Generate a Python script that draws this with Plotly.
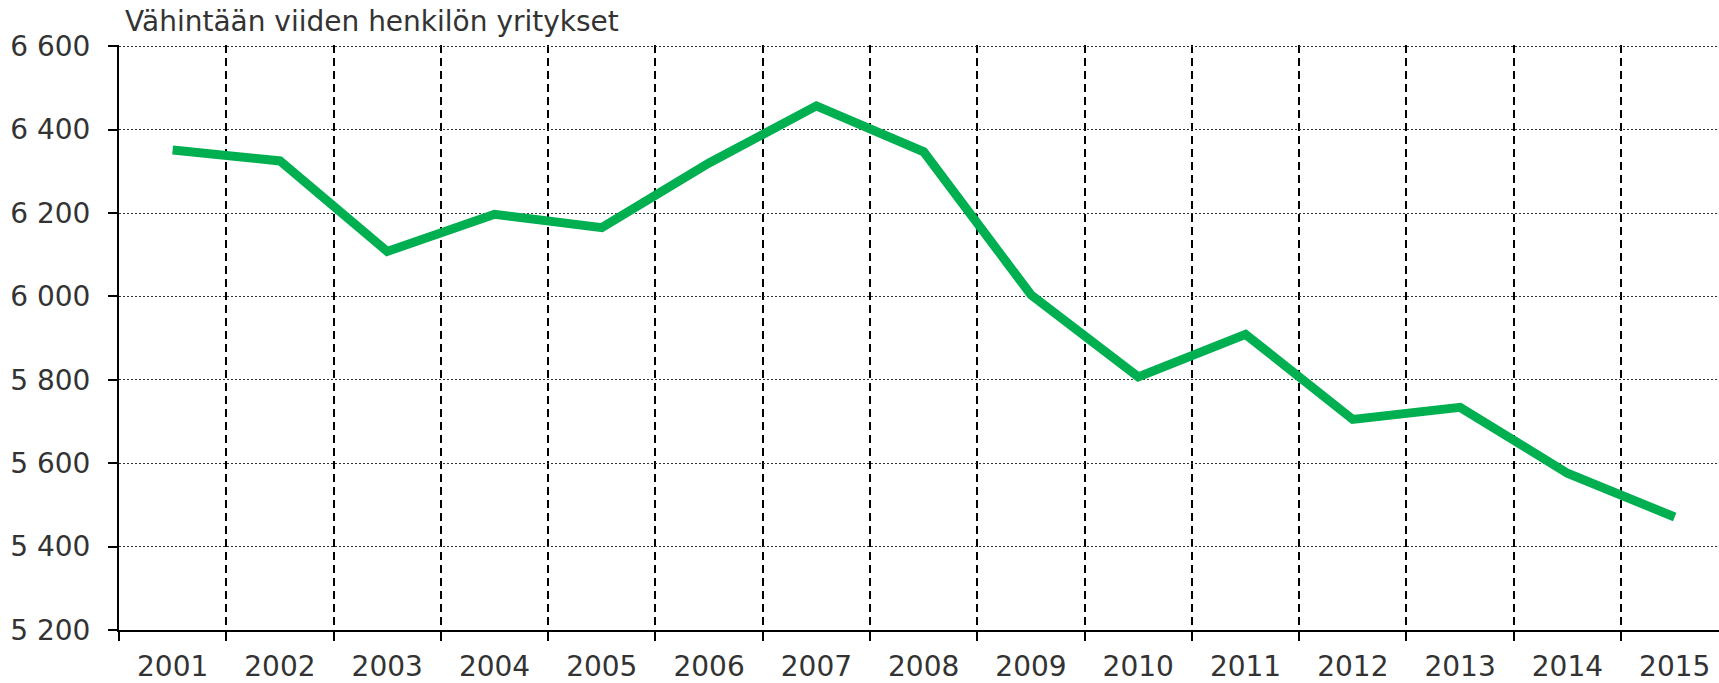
import plotly.graph_objects as go

years = [str(y) for y in range(2001, 2016)]
values = [6351, 6325, 6108, 6197, 6165, 6320, 6457, 6347, 6004, 5807, 5909, 5705, 5734, 5576, 5471]
y_ticks = [5200, 5400, 5600, 5800, 6000, 6200, 6400, 6600]
title_text = "Vähintään viiden henkilön yritykset"

W, H = 1719, 683
font_family = "DejaVu Sans, Verdana, sans-serif"

fig = go.Figure()
fig.add_trace(go.Scatter(
    x=years, y=values, mode="lines",
    line=dict(color="#00b050", width=9),
    hoverinfo="skip", showlegend=False,
))

fig.update_layout(
    width=W, height=H,
    margin=dict(l=119, r=0, t=45, b=50),
    paper_bgcolor="white", plot_bgcolor="white",
    separators=", ",
    font=dict(family=font_family, size=28, color="#333333"),
    title=dict(text=title_text, x=125 / W, xanchor="left", xref="container",
               y=1 - 21 / H, yanchor="middle", yref="container",
               font=dict(family=font_family, size=28, color="#333333")),
)

fig.update_xaxes(
    type="category",
    range=[-0.5, 14.413],
    tickson="boundaries",
    showgrid=True, gridcolor="black", gridwidth=2, griddash="8px,5px",
    showline=True, linecolor="black", linewidth=2,
    ticks="outside", ticklen=9, tickwidth=2, tickcolor="black",
    ticklabelstandoff=10,
    tickfont=dict(size=28, color="#333333"),
)
fig.update_yaxes(
    range=[5200, 6603],
    tickvals=y_ticks, tickformat=",d",
    showgrid=True, gridcolor="#333333", gridwidth=1, griddash="2px,2px",
    showline=True, linecolor="black", linewidth=2,
    ticks="outside", ticklen=9, tickwidth=2, tickcolor="black",
    ticklabelstandoff=12,
    zeroline=False,
    tickfont=dict(size=28, color="#333333"),
)

fig.write_html("out.html", config={"displayModeBar": False},
               post_script="document.body.style.margin='0';document.body.style.overflow='hidden';")
